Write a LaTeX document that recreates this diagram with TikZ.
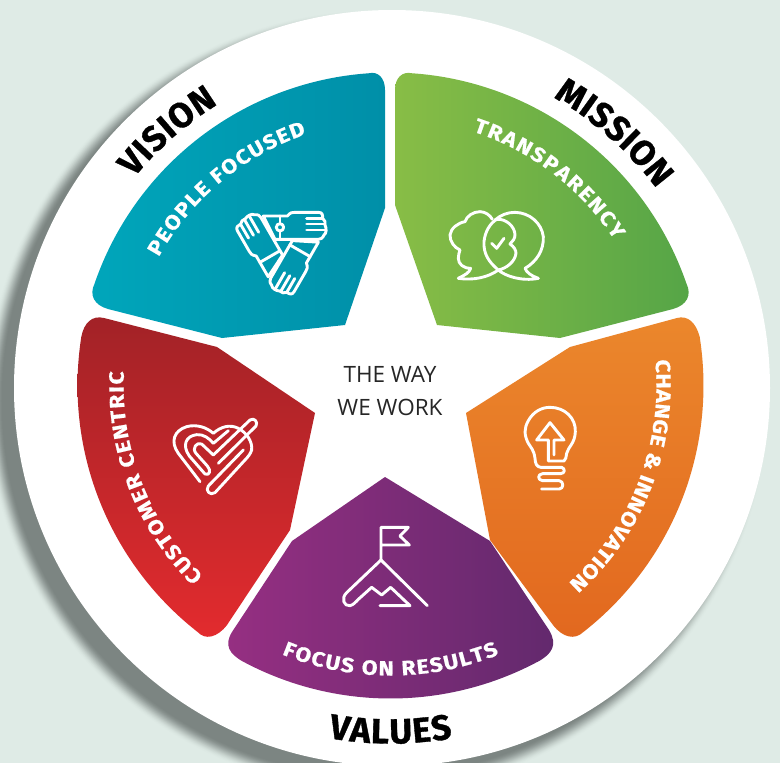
\documentclass[tikz,border=0pt]{standalone}
\usepackage{fontspec}
\setmainfont{Fira Sans}[BoldFeatures={FakeBold=0.8,FakeStretch=1.12}]
\newfontfamily\headfont{Fira Sans}[BoldFeatures={FakeBold=1.0}]
\newfontfamily\centerfont{Open Sans}
\usetikzlibrary{decorations.text}
\definecolor{bgc}{HTML}{DFEBE6}
\definecolor{sdark}{HTML}{7C8582}
\definecolor{tealA}{HTML}{00A6BB}
\definecolor{tealB}{HTML}{008FA8}
\definecolor{greenA}{HTML}{88BD46}
\definecolor{greenB}{HTML}{55A547}
\definecolor{orangeA}{HTML}{EB872C}
\definecolor{orangeB}{HTML}{E2681F}
\definecolor{purpleA}{HTML}{962F82}
\definecolor{purpleB}{HTML}{62296D}
\definecolor{redA}{HTML}{A22227}
\definecolor{redM}{HTML}{CC2529}
\definecolor{redB}{HTML}{E32B2E}
\def\cx{390.5}
\def\cy{385.5}
\def\R{313}
\newcommand{\arctext}[5]{%
  \path[decorate,decoration={text along path,text align={fit to path},text color=#5,
     text={|#4|#3}}]
     plot[domain=#1,samples=120] ({\cx+#2*cos(\x)},{\cy+#2*sin(\x)});}
\newcommand{\lfont}{\bfseries\fontsize{20.5}{21}\selectfont}
\newcommand{\hfont}{\headfont\bfseries\fontsize{35}{37}\selectfont}
\tikzset{
  icon/.style={draw=white,line width=2.9pt,line cap=round,line join=round},
  zoomed/.style={x=.3333pt,y=-.3333pt},
  rim/.style={samples=80}
}
\begin{document}
\begin{tikzpicture}[x=1pt,y=-1pt]
\useasboundingbox (0,0) rectangle (780,763);
\fill[bgc] (0,0) rectangle (780,763);
\begin{scope}
\clip (0,0) rectangle (780,763);
\foreach \i in {0,...,34}{
  \pgfmathsetmacro{\t}{\i/34}
  \pgfmathsetmacro{\p}{100*(1-\t*\t*(3-2*\t))}
  \pgfmathsetmacro{\rr}{391-17*\t}
  \fill[bgc!\p!sdark] (377,401) circle[radius=\rr pt];
}
\fill[white] (392,388) circle[radius=378pt];
\end{scope}
% teal
\shade[left color=tealA,right color=tealB]
  (222,338) -- (108,309) .. controls (94,305) and (89,295) .. (94.6,283.6)
  -- plot[rim,domain=199:266] ({\cx+\R*cos(\x)},{\cy+\R*sin(\x)})
  .. controls (378,71) and (385,78) .. (385,90)
  -- (385,208) -- (345,325) -- cycle;
% green
\shade[left color=greenA,right color=greenB]
  (437,325) -- (395,205) -- (395,90) .. controls (395,78) and (402,71) .. (412.3,73.3)
  -- plot[rim,domain=274:341] ({\cx+\R*cos(\x)},{\cy+\R*sin(\x)})
  .. controls (692,295) and (687,305) .. (673,309)
  -- (560,338) -- cycle;
% orange
\shade[top color=orangeA,bottom color=orangeB]
  (466,413) -- (570,347) -- (677,318) .. controls (688,315) and (696,323) .. (699.6,336.5)
  -- plot[rim,domain=351:412] ({\cx+\R*cos(\x)},{\cy+\R*sin(\x)})
  .. controls (575,640) and (563,638) .. (553,625)
  -- (490,540) -- cycle;
% purple
\shade[left color=purpleA,right color=purpleB]
  (385,477) -- (490,541) -- (549,630) .. controls (558,645) and (552,654) .. (537.5,661.9)
  -- plot[rim,domain=62:118] ({\cx+\R*cos(\x)},{\cy+\R*sin(\x)})
  .. controls (229,654) and (224,645) .. (232,632)
  -- (292,541) -- cycle;
% red
\shade[top color=redA,middle color=redM,bottom color=redB]
  (315,413) -- (217,347) -- (104,318) .. controls (92,315) and (84,323) .. (81.4,336.5)
  -- plot[rim,domain=189:128] ({\cx+\R*cos(\x)},{\cy+\R*sin(\x)})
  .. controls (205,640) and (217,638) .. (227,625)
  -- (290,530) -- cycle;
% headings
\arctext{219:238.5}{330}{VISION}{\hfont}{black}
\arctext{299.5:323.5}{331}{MISSION}{\hfont}{black}
\arctext{100:80}{358}{VALUES}{\hfont}{black}
% labels
\arctext{209:251.5}{265}{PEOPLE FOCUSED}{\lfont}{white}
\arctext{288:327}{267}{TRANSPARENCY}{\lfont}{white}
\arctext{354.5:408}{266}{CHANGE {\&} INNOVATION}{\lfont}{white}
\arctext{134.5:183}{267}{CUSTOMER CENTRIC}{\lfont}{white}
\arctext{112:68}{290}{FOCUS ON RESULTS}{\lfont}{white}
% centre
\node[name=centretext,font=\centerfont\fontsize{22.5}{33}\selectfont,text=black!85,align=center] at (390,391) {THE WAY\\WE WORK};
% hands
\begin{scope}[shift={(200,180)},zoomed]
\foreach \a in {0,-120,-240}{
  \begin{scope}[rotate around={\a:(250,195)}]
  \draw[icon] (225,178) -- (190,108) -- (262,108) .. controls (272,97) and (276,97) .. (285,97) -- (355,97) .. controls (368,97) and (368,105) .. (368,115) .. controls (376,120) and (376,128) .. (375,135) .. controls (380,145) and (380,160) .. (372,165) .. controls (368,175) and (362,178) .. (355,178) -- cycle;
  \draw[icon] (320,115) -- (368,115) (320,132) -- (375,132) (320,150) -- (376,150);
  \draw[icon] (240,108) -- (240,178);
  \end{scope}}
\fill[tealA!50!tealB] (240,142) circle[radius=11];
\draw[icon] (240,142) circle[radius=11];
\end{scope}
% bubbles
\begin{scope}[shift={(430,190)},zoomed]
\draw[icon] (85,265) .. controls (105,255) and (118,248) .. (122,235) .. controls (100,235) and (85,222) .. (85,205) .. controls (85,195) and (88,185) .. (90,180) .. controls (72,172) and (60,155) .. (60,135) .. controls (62,115) and (85,98) .. (105,95) .. controls (110,78) and (130,65) .. (150,65) .. controls (165,65) and (180,75) .. (187,88);
\draw[icon] (85,265) .. controls (130,272) and (175,262) .. (205,240) .. controls (175,215) and (160,190) .. (162,155) .. controls (165,125) and (180,100) .. (200,88) .. controls (228,85) and (255,110) .. (255,135) .. controls (255,145) and (248,155) .. (240,162) .. controls (252,170) and (258,180) .. (258,190) .. controls (255,215) and (230,235) .. (205,240) .. controls (225,258) and (275,275) .. (325,265) .. controls (305,258) and (290,248) .. (285,235) .. controls (320,215) and (342,180) .. (340,140) .. controls (335,100) and (300,68) .. (255,67) .. controls (232,67) and (212,75) .. (195,90);
\draw[icon] (185,160) -- (200,175) -- (222,145);
\end{scope}
% bulb
\begin{scope}[shift={(500,390)},zoomed]
\draw[icon] (185,232) -- (122,232) .. controls (110,230) and (106,222) .. (105,205) .. controls (102,180) and (92,172) .. (85,160) .. controls (72,135) and (72,115) .. (85,92) .. controls (100,65) and (125,52) .. (150,52) .. controls (195,52) and (228,85) .. (226,125) .. controls (225,160) and (205,170) .. (200,190) .. controls (198,200) and (198,210) .. (192,213) -- (145,213) -- (145,150) -- (110,150) -- (150,98) -- (192,150) -- (162,150) -- (162,195);
\draw[icon] (185,232) .. controls (196,236) and (196,250) .. (182,251) -- (128,251) .. controls (112,252) and (112,271) .. (128,272) -- (178,272) .. controls (192,274) and (192,296) .. (178,297) -- (125,297);
\end{scope}
% heart
\begin{scope}[shift={(150,400)},zoomed]
\draw[icon] (150,245) -- (85,160) .. controls (60,125) and (72,92) .. (110,80) .. controls (140,72) and (170,82) .. (190,100) .. controls (212,80) and (240,72) .. (265,85) .. controls (290,98) and (308,125) .. (305,150) .. controls (302,160) and (295,170) .. (285,180) -- (195,278) .. controls (180,288) and (165,272) .. (175,258) -- (280,150);
\draw[icon] (205,190) -- (318,78) .. controls (325,65) and (312,52) .. (300,60) -- (190,165) -- (155,132) .. controls (140,125) and (125,145) .. (138,160) -- (172,198) .. controls (185,212) and (178,228) .. (165,222) -- (118,168) .. controls (95,135) and (108,108) .. (140,104) .. controls (160,102) and (178,115) .. (190,130) -- (235,92);
\end{scope}
% mountain
\begin{scope}[shift={(320,510)},zoomed]
\draw[icon] (183,150) -- (183,52) -- (265,52) -- (240,78) -- (268,105) -- (183,105);
\draw[icon] (322,287) -- (183,150) -- (80,248) .. controls (62,265) and (72,290) .. (90,287) .. controls (100,285) and (108,275) .. (115,268) -- (155,232) -- (185,255) -- (212,232) -- (270,287) -- (180,287);
\end{scope}
\end{tikzpicture}
\end{document}
